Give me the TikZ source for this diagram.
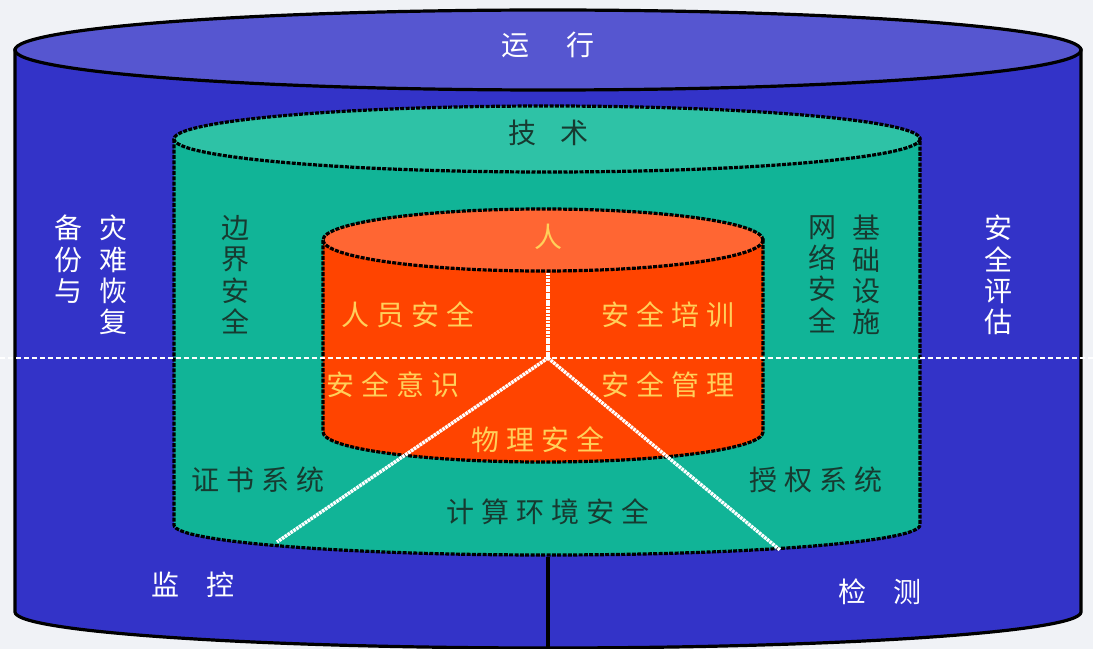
\documentclass[tikz,border=0pt]{standalone}
\usepackage{fontspec}
\newfontfamily\cjk{Noto Sans CJK SC}
\newfontfamily\cjksp[LetterSpace=25]{Noto Sans CJK SC}
\definecolor{bgc}{HTML}{F0F2F6}
\definecolor{blueb}{HTML}{3333C8}
\definecolor{bluet}{HTML}{5656D0}
\definecolor{greenb}{HTML}{11B497}
\definecolor{greent}{HTML}{2EC2A6}
\definecolor{redb}{HTML}{FF4400}
\definecolor{redt}{HTML}{FF6633}
\definecolor{ytxt}{HTML}{FFD05A}
\definecolor{dtxt}{HTML}{173A30}
\begin{document}
\begin{tikzpicture}[x=0.75pt,y=-0.75pt,
  lbl/.style={font=\cjksp\fontsize{21}{23}\selectfont,inner sep=0pt},
  vlbl/.style={font=\cjk\fontsize{21}{23.5}\selectfont,inner sep=0pt,align=center},
  dashedge/.style={draw=black,line width=2.4pt,dash pattern=on 3pt off 1pt},
  whitel/.style={draw=white,line width=2.6pt,dash pattern=on 2pt off 0.6pt}]
\useasboundingbox (0,0) rectangle (1093,649);
\fill[bgc] (0,0) rectangle (1093,649);
% outer blue cylinder
\filldraw[fill=blueb,draw=black,line width=2.4pt] (15,50) -- (15,612) arc[start angle=180,end angle=0,x radius=533,y radius=36] -- (1081,50) -- cycle;
\filldraw[fill=bluet,draw=black,line width=2.4pt] (548,50) ellipse[x radius=533,y radius=40];
% green cylinder
\filldraw[fill=greenb,dashedge] (174,139) -- (174,525) arc[start angle=180,end angle=0,x radius=373,y radius=30] -- (920,139) -- cycle;
\filldraw[fill=greent,dashedge] (547,139) ellipse[x radius=373,y radius=33];
% red cylinder
\filldraw[fill=redb,dashedge] (323,240) -- (323,432) arc[start angle=180,end angle=0,x radius=220,y radius=30] -- (763,240) -- cycle;
\filldraw[fill=redt,dashedge] (543,240) ellipse[x radius=220,y radius=31];
% lines
\coordinate (c) at (548,358);
\coordinate (up) at (548,273);
\coordinate (dl) at (277,542);
\coordinate (dr) at (780,550);
\coordinate (hl) at (0,358);
\coordinate (hr) at (1093,358);
\coordinate (vt) at (548,557);
\coordinate (vb) at (548,649);
\draw[whitel] (c) -- (up);
\draw[whitel] (c) -- (dl);
\draw[whitel] (c) -- (dr);
\draw[draw=white,line width=2pt,dash pattern=on 4pt off 2pt] (hl) -- (hr);
\draw[black,line width=2.8pt] (vt) -- (vb);
% texts
\node[lbl,white] (t1) at (548,45) {运\hspace{28pt}行};
\node[lbl,dtxt] (t2) at (548,133) {技\hspace{18pt}术};
\node[lbl,ytxt] (t3) at (548,237) {人};
\node[lbl,ytxt] (t4) at (408,315) {人员安全};
\node[lbl,ytxt] (t5) at (668,315) {安全培训};
\node[lbl,ytxt] (t6) at (393,385) {安全意识};
\node[lbl,ytxt] (t7) at (668,385) {安全管理};
\node[lbl,ytxt] (t8) at (538,440) {物理安全};
\node[lbl,dtxt] (t9) at (258,480) {证书系统};
\node[lbl,dtxt] (t10) at (816,480) {授权系统};
\node[lbl,dtxt] (t11) at (548,512) {计算环境安全};
\node[lbl,white] (t12) at (193,585) {监\hspace{20pt}控};
\node[lbl,white] (t13) at (880,592) {检\hspace{20pt}测};
\node[vlbl,dtxt,anchor=north] (v1) at (235,215) {边\\界\\安\\全};
\node[vlbl,dtxt,anchor=north] (v2) at (822,215) {网\\络\\安\\全};
\node[vlbl,dtxt,anchor=north] (v3) at (866,215) {基\\础\\设\\施};
\node[vlbl,white,anchor=north] (v4) at (68,215) {备\\份\\与};
\node[vlbl,white,anchor=north] (v5) at (113,215) {灾\\难\\恢\\复};
\node[vlbl,white,anchor=north] (v6) at (998,215) {安\\全\\评\\估};
\end{tikzpicture}
\end{document}
